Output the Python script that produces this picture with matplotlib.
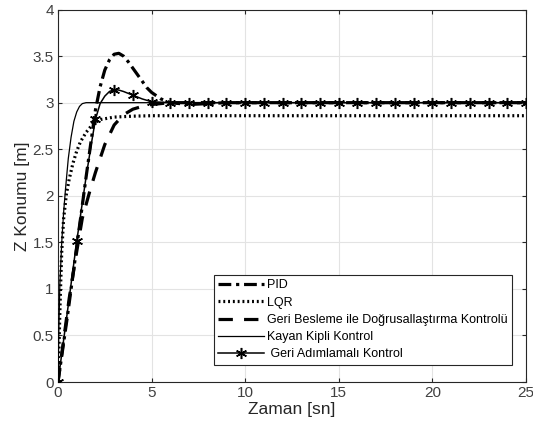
import numpy as np
import matplotlib
matplotlib.use("Agg")
import matplotlib.pyplot as plt

plt.rcParams['font.family'] = ['Liberation Sans', 'DejaVu Sans']

# Step responses of the Z position under five controllers
t_pid = [0, 0.5, 1.0, 1.5, 2.0, 2.25, 2.5, 2.75, 3.0, 3.25, 3.5, 3.75, 4.0, 4.25, 4.5,
         4.75, 5.0, 5.5, 6.0, 7.0, 8.0, 9.0, 25.0]
z_pid = [0, 0.70, 1.45, 2.20, 2.92, 3.17, 3.35, 3.46, 3.52, 3.53, 3.50, 3.44, 3.37, 3.30,
         3.23, 3.16, 3.11, 3.04, 3.00, 2.98, 2.99, 3.00, 3.00]

t_lqr = [0, 0.05, 0.1, 0.15, 0.2, 0.3, 0.45, 0.6, 0.8, 1.0, 1.2, 1.5, 1.9, 2.3, 3.0, 4.0, 5.0, 25.0]
z_lqr = [0, 0.35, 0.75, 1.10, 1.40, 1.75, 2.02, 2.18, 2.35, 2.48, 2.58, 2.68, 2.78, 2.82, 2.845, 2.855, 2.86, 2.86]

t_fl = [0, 0.3, 0.6, 1.0, 1.3, 1.7, 2.0, 2.5, 3.0, 3.5, 4.0, 4.5, 5.0, 6.0, 25.0]
z_fl = [0, 0.45, 0.90, 1.40, 1.76, 2.05, 2.25, 2.55, 2.76, 2.87, 2.93, 2.96, 2.98, 3.00, 3.00]

t_smc = [0, 0.05, 0.1, 0.2, 0.3, 0.4, 0.55, 0.7, 0.85, 1.0, 1.15, 1.3, 1.5, 25.0]
z_smc = [0, 0.60, 1.05, 1.50, 1.82, 2.07, 2.40, 2.63, 2.80, 2.90, 2.96, 2.99, 3.00, 3.00]

t_bs = [0, 0.5, 1, 1.5, 1.75, 2, 2.25, 2.5, 2.75, 3, 3.25, 3.5, 4, 4.5, 5, 6, 7, 8, 9, 10,
        11, 12, 13, 14, 15, 16, 17, 18, 19, 20, 21, 22, 23, 24, 25]
z_bs = [0, 0.75, 1.51, 2.20, 2.52, 2.82, 2.99, 3.07, 3.12, 3.14, 3.135, 3.12, 3.08, 3.04,
        3.01, 3.00, 3.00, 3.00, 3.00, 3.00, 3.00, 3.00, 3.00, 3.00, 3.00, 3.00, 3.00,
        3.00, 3.00, 3.00, 3.00, 3.00, 3.00, 3.00, 3.00]

labels = ['PID', 'LQR', 'Geri Besleme ile Doğrusallaştırma Kontrolü',
          'Kayan Kipli Kontrol', ' Geri Adımlamalı Kontrol']
xticks = [0, 5, 10, 15, 20, 25]
yticks = [0, 0.5, 1, 1.5, 2, 2.5, 3, 3.5, 4]

fig = plt.figure(figsize=(5.33, 4.34), dpi=100)
ax = fig.add_axes([0.1088, 0.1198, 0.8780, 0.8582])

axc = '#262626'
ax.plot(t_pid, z_pid, color='black', lw=2.3, linestyle=(0, (4, 1.5, 1, 1.5)), label=labels[0], zorder=3)
ax.plot(t_lqr, z_lqr, color='black', lw=2.3, linestyle=(0, (0.6, 0.9)), label=labels[1], zorder=3)
ax.plot(t_fl, z_fl, color='black', lw=2.3, linestyle=(0, (4.5, 3.5)), label=labels[2], zorder=3)
ax.plot(t_smc, z_smc, color='black', lw=0.9, linestyle='-', label=labels[3], zorder=4)
t_bs_arr = np.array(t_bs)
marks = [i for i, v in enumerate(t_bs_arr) if abs(v - round(v)) < 1e-9]
ax.plot(t_bs, z_bs, color='black', lw=1.1, linestyle='-', marker=(6, 2, 0), markersize=8,
        markeredgewidth=1.1, markevery=marks, label=labels[4], zorder=5)

ax.set_xlim(0, 25)
ax.set_ylim(0, 4)
ax.set_xticks(xticks)
ax.set_yticks(yticks)
ax.set_xticklabels([str(v) for v in xticks])
ax.set_yticklabels(['0', '0.5', '1', '1.5', '2', '2.5', '3', '3.5', '4'])
ax.grid(True, color='#e3e3e3', lw=0.8)
ax.set_axisbelow(True)
ax.tick_params(direction='in', length=3, colors=axc, labelsize=11, labelcolor='#404040',
               top=True, right=True, pad=3)
for s in ax.spines.values():
    s.set_color(axc)
    s.set_linewidth(0.8)

ax.set_xlabel('Zaman [sn]', fontsize=12.5, color='#262626', labelpad=1)
ax.set_ylabel('Z Konumu [m]', fontsize=12.5, color='#262626', labelpad=2)

leg = ax.legend(loc='lower right', bbox_to_anchor=(0.97, 0.046), fontsize=9,
                frameon=True, fancybox=False, edgecolor='#262626', framealpha=1,
                handlelength=3.7, handletextpad=0.2, labelspacing=0.42,
                borderpad=0.35, borderaxespad=0.0)
leg.get_frame().set_linewidth(0.8)

fig.savefig('out.png', dpi=100)
